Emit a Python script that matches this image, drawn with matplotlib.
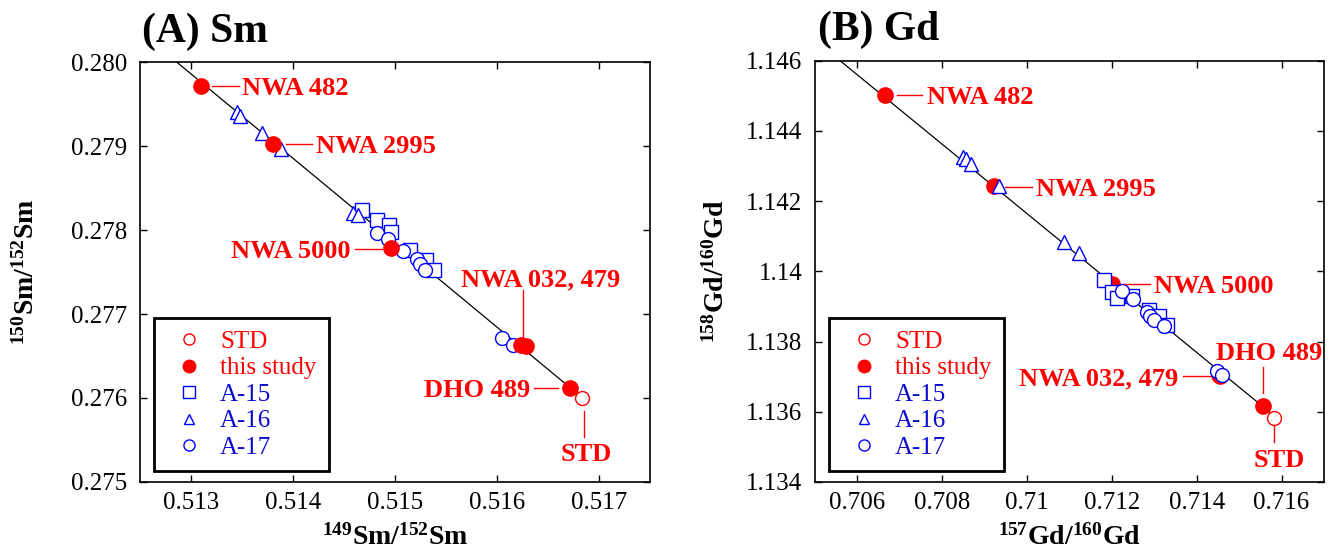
import matplotlib
matplotlib.use("Agg")
import matplotlib.pyplot as plt
from matplotlib.lines import Line2D

plt.rcParams["font.family"] = ["Liberation Serif", "DejaVu Serif"]
plt.rcParams["mathtext.fontset"] = "custom"
plt.rcParams["mathtext.rm"] = "Liberation Serif"
plt.rcParams["mathtext.bf"] = "Liberation Serif:bold"

RED = "#ff0000"
BLUE = "#0000ff"
TXT_BLUE = "#0a0ad0"

# ---- (A) Sm data ----
sm_std_x = [0.51683]
sm_std_y = [0.27600]
sm_this_x = [0.51310, 0.51380, 0.51496, 0.51624, 0.51628, 0.51672]
sm_this_y = [0.27971, 0.27903, 0.27778, 0.27663, 0.27662, 0.27612]
sm_a15_x = [0.51468, 0.51482, 0.51494, 0.51496, 0.51515, 0.51530, 0.51538]
sm_a15_y = [0.27824, 0.27812, 0.27806, 0.27798, 0.27776, 0.27764, 0.27752]
sm_a16_x = [0.51345, 0.51348, 0.51370, 0.51388, 0.51459, 0.51464]
sm_a16_y = [0.27941, 0.27936, 0.27915, 0.27897, 0.27820, 0.27818]
sm_a17_x = [0.51482, 0.51493, 0.51508, 0.51522, 0.51525, 0.51529, 0.51605, 0.51616]
sm_a17_y = [0.27796, 0.27789, 0.27775, 0.27766, 0.27760, 0.27752, 0.27671, 0.27663]
sm_line_x = [0.51286, 0.51678]
sm_line_y = [0.28000, 0.27606]
sm_xticks = [0.513, 0.514, 0.515, 0.516, 0.517]
sm_xticklabels = ["0.513", "0.514", "0.515", "0.516", "0.517"]
sm_yticks = [0.275, 0.276, 0.277, 0.278, 0.279, 0.280]
sm_yticklabels = ["0.275", "0.276", "0.277", "0.278", "0.279", "0.280"]

# label, text x, text y, ha, leader xs, leader ys
sm_notes = [
    ("NWA 482", 0.51350, 0.27971, "left", [0.51321, 0.51347], [0.27971, 0.27971]),
    ("NWA 2995", 0.51423, 0.27902, "left", [0.51393, 0.51419], [0.27902, 0.27902]),
    ("NWA 5000", 0.51456, 0.27777, "right", [0.51461, 0.51487], [0.27777, 0.27777]),
    ("NWA 032, 479", 0.51643, 0.27744, "center", [0.51626, 0.51626], [0.27729, 0.27673]),
    ("DHO 489", 0.51633, 0.27612, "right", [0.51636, 0.51660], [0.27612, 0.27612]),
    ("STD", 0.51688, 0.27536, "center", [0.51685, 0.51685], [0.27584, 0.27554]),
]

# ---- (B) Gd data ----
gd_std_x = [0.71582]
gd_std_y = [1.13582]
gd_this_x = [0.70665, 0.70921, 0.71200, 0.71452, 0.71456, 0.71556]
gd_this_y = [1.14502, 1.14244, 1.13965, 1.13706, 1.13702, 1.13615]
gd_a15_x = [0.71182, 0.71200, 0.71212, 0.71248, 0.71287, 0.71311, 0.71331]
gd_a15_y = [1.13975, 1.13940, 1.13923, 1.13930, 1.13890, 1.13872, 1.13848]
gd_a16_x = [0.70849, 0.70857, 0.70869, 0.70933, 0.71088, 0.71122]
gd_a16_y = [1.14326, 1.14319, 1.14305, 1.14244, 1.14084, 1.14051]
gd_a17_x = [0.71224, 0.71249, 0.71283, 0.71291, 0.71299, 0.71323, 0.71448, 0.71459]
gd_a17_y = [1.13944, 1.13921, 1.13883, 1.13873, 1.13862, 1.13843, 1.13715, 1.13704]
gd_line_x = [0.70559, 0.71575]
gd_line_y = [1.14600, 1.13596]
gd_xticks = [0.706, 0.708, 0.710, 0.712, 0.714, 0.716]
gd_xticklabels = ["0.706", "0.708", "0.71", "0.712", "0.714", "0.716"]
gd_yticks = [1.134, 1.136, 1.138, 1.140, 1.142, 1.144, 1.146]
gd_yticklabels = ["1.134", "1.136", "1.138", "1.14", "1.142", "1.144", "1.146"]

gd_notes = [
    ("NWA 482", 0.70763, 1.14502, "left", [0.70693, 0.70753], [1.14502, 1.14502]),
    ("NWA 2995", 0.71020, 1.14241, "left", [0.70948, 0.71011], [1.14241, 1.14241]),
    ("NWA 5000", 0.71299, 1.13965, "left", [0.71228, 0.71291], [1.13965, 1.13965]),
    ("NWA 032, 479", 0.71357, 1.13701, "right", [0.71367, 0.71431], [1.13701, 1.13701]),
    ("DHO 489", 0.71570, 1.13774, "center", [0.71556, 0.71556], [1.13727, 1.13653]),
    ("STD", 0.71594, 1.13467, "center", [0.71582, 0.71582], [1.13561, 1.13514]),
]

legend_labels = ["STD", "this study", "A-15", "A-16", "A-17"]
legend_colors = [RED, RED, TXT_BLUE, TXT_BLUE, TXT_BLUE]


def draw_panel(ax, std, this, a15, a16, a17, line, notes, red_on_top):
    ax.plot(line[0], line[1], color="black", lw=0.9, zorder=2)
    rz = 5 if red_on_top else 2.5
    ax.plot(a15[0], a15[1], ls="none", marker="s", ms=9.5, mfc="white",
            mec=BLUE, mew=1.0, zorder=3)
    ax.plot(a16[0], a16[1], ls="none", marker="^", ms=9.5, mfc="white",
            mec=BLUE, mew=1.0, zorder=3)
    ax.plot(a17[0], a17[1], ls="none", marker="o", ms=10, mfc="white",
            mec=BLUE, mew=1.0, zorder=3.5)
    ax.plot(this[0], this[1], ls="none", marker="o", ms=11, mfc=RED,
            mec=RED, zorder=rz)
    ax.plot(std[0], std[1], ls="none", marker="o", ms=10, mfc="white",
            mec=RED, mew=1.0, zorder=4)
    for label, tx, ty, ha, lx, ly in notes:
        ax.plot(lx, ly, color=RED, lw=1.0, zorder=6)
        ax.text(tx, ty, label, color=RED, fontsize=19, fontweight="bold",
                ha=ha, va="center_baseline", zorder=6)

    handles = [
        Line2D([], [], ls="none", marker="o", ms=8, mfc="white", mec=RED, mew=1.0),
        Line2D([], [], ls="none", marker="o", ms=9, mfc=RED, mec=RED),
        Line2D([], [], ls="none", marker="s", ms=8, mfc="white", mec=BLUE, mew=1.0),
        Line2D([], [], ls="none", marker="^", ms=7, mfc="white", mec=BLUE, mew=1.0),
        Line2D([], [], ls="none", marker="o", ms=8, mfc="white", mec=BLUE, mew=1.0),
    ]
    leg = ax.legend(handles, legend_labels, loc="lower left",
                    bbox_to_anchor=(0.028, 0.025), fontsize=18,
                    labelcolor=legend_colors, frameon=True, fancybox=False,
                    framealpha=1, edgecolor="black", labelspacing=0.16,
                    handlelength=1.8, handletextpad=0.34, borderpad=0.5,
                    borderaxespad=0.0)
    leg.get_frame().set_linewidth(2.0)
    leg.set_zorder(7)

    ax.tick_params(direction="in", length=5, width=1.0, top=True, right=True,
                   labelsize=18, colors="black")
    ax.tick_params(axis="y", pad=9)
    ax.tick_params(axis="x", pad=7)
    for s in ax.spines.values():
        s.set_linewidth(1.2)


fig = plt.figure(figsize=(13.33, 5.54), dpi=100)
ax1 = fig.add_axes([0.105, 0.130, 0.3826, 0.758])
ax2 = fig.add_axes([0.6114, 0.130, 0.3818, 0.7605])

draw_panel(ax1, (sm_std_x, sm_std_y), (sm_this_x, sm_this_y),
           (sm_a15_x, sm_a15_y), (sm_a16_x, sm_a16_y), (sm_a17_x, sm_a17_y),
           (sm_line_x, sm_line_y), sm_notes, red_on_top=True)
ax1.set_xlim(0.5125, 0.5175)
ax1.set_ylim(0.275, 0.280)
ax1.set_xticks(sm_xticks)
ax1.set_xticklabels(sm_xticklabels)
ax1.set_yticks(sm_yticks)
ax1.set_yticklabels(sm_yticklabels)
ax1.set_xlabel(r"$\mathbf{^{149}Sm/^{152}Sm}$", fontsize=20)
ax1.set_ylabel(r"$\mathbf{^{150}Sm/^{152}Sm}$", fontsize=20)
ax1.xaxis.set_label_coords(0.5, -0.10)
ax1.yaxis.set_label_coords(-0.196, 0.5)
ax1.text(0.004, 1.048, "(A) Sm", transform=ax1.transAxes, fontsize=30,
         fontweight="bold", ha="left", va="baseline")

draw_panel(ax2, (gd_std_x, gd_std_y), (gd_this_x, gd_this_y),
           (gd_a15_x, gd_a15_y), (gd_a16_x, gd_a16_y), (gd_a17_x, gd_a17_y),
           (gd_line_x, gd_line_y), gd_notes, red_on_top=False)
ax2.set_xlim(0.705, 0.717)
ax2.set_ylim(1.134, 1.146)
ax2.set_xticks(gd_xticks)
ax2.set_xticklabels(gd_xticklabels)
ax2.set_yticks(gd_yticks)
ax2.set_yticklabels(gd_yticklabels)
ax2.set_xlabel(r"$\mathbf{^{157}Gd/^{160}Gd}$", fontsize=20)
ax2.set_ylabel(r"$\mathbf{^{158}Gd/^{160}Gd}$", fontsize=20)
ax2.xaxis.set_label_coords(0.5, -0.10)
ax2.yaxis.set_label_coords(-0.167, 0.5)
ax2.text(0.005, 1.048, "(B) Gd", transform=ax2.transAxes, fontsize=30,
         fontweight="bold", ha="left", va="baseline")

fig.savefig("out.png", dpi=100)
